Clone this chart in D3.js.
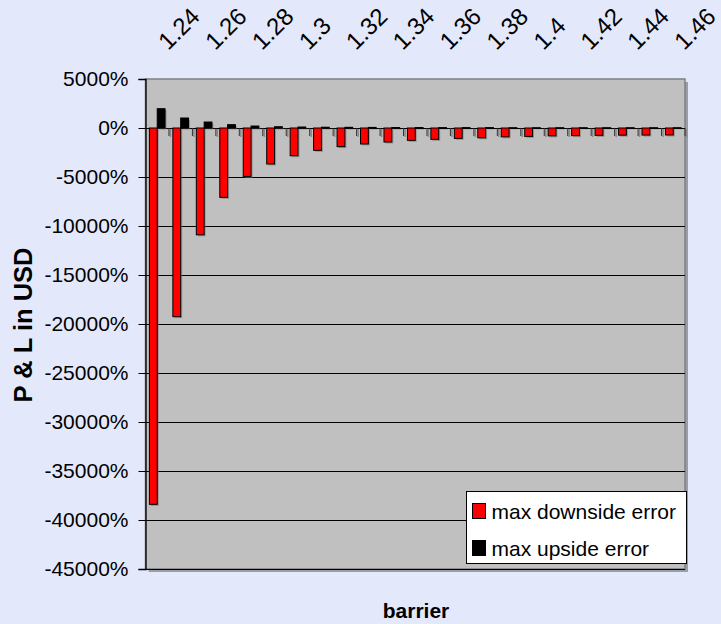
<!DOCTYPE html>
<html>
<head>
<meta charset="utf-8">
<script src="https://cdn.jsdelivr.net/npm/d3@7"></script>
<style>
  html, body { margin: 0; padding: 0; background: #e3e9fb; }
  svg { display: block; font-family: "Liberation Sans", Arial, sans-serif; }
</style>
</head>
<body>
<svg id="chart" width="721" height="624"></svg>
<script>
// Barrier levels (categories along the top axis)
const barriers = ["1.24","1.25","1.26","1.27","1.28","1.29","1.3","1.31","1.32","1.33","1.34","1.35",
                  "1.36","1.37","1.38","1.39","1.4","1.41","1.42","1.43","1.44","1.45","1.46"];
// Labelled barriers (every other one)
const barrierLabels = ["1.24","1.26","1.28","1.3","1.32","1.34","1.36","1.38","1.4","1.42","1.44","1.46"];
// Max downside error, in %
const downside = [-38400, -19250, -10900, -7080, -4940, -3670, -2830, -2280, -1900, -1630, -1430, -1260,
                  -1160, -1060, -1000, -900, -860, -800, -780, -750, -730, -720, -710];
// Max upside error, in %
const upside = [1970, 1020, 610, 340, 200, 130, 100, 80, 70, 60, 50, 50,
                40, 40, 40, 30, 30, 30, 30, 30, 30, 30, 30];
// Value axis ticks
const yTicks = [5000, 0, -5000, -10000, -15000, -20000, -25000, -30000, -35000, -40000, -45000];

const seriesNames = ["max downside error", "max upside error"];
const seriesColors = ["#ff0000", "#000000"];

const svg = d3.select("#chart");
const plot = { left: 145.5, top: 79, right: 685, bottom: 569 };

const x = d3.scaleBand().domain(barriers).range([plot.left, plot.right]).padding(0);
const xs = d3.scaleBand().domain(["down", "up"]).range([0, x.bandwidth()]).paddingInner(0).paddingOuter(0.5);
const y = d3.scaleLinear().domain([-45000, 5000]).range([plot.bottom, plot.top]);

// Plot area with drop shadow
svg.append("rect")
  .attr("x", plot.left + 3).attr("y", plot.top + 3)
  .attr("width", plot.right - plot.left).attr("height", plot.bottom - plot.top)
  .attr("fill", "#9a9ea8");
svg.append("rect")
  .attr("x", plot.left).attr("y", plot.top)
  .attr("width", plot.right - plot.left).attr("height", plot.bottom - plot.top)
  .attr("fill", "#c0c0c0").attr("stroke", "#808080").attr("stroke-width", 1.5);

// Horizontal gridlines
svg.append("g").selectAll("line").data(yTicks).join("line")
  .attr("x1", plot.left).attr("x2", plot.right)
  .attr("y1", d => Math.round(y(d)) + 0.5).attr("y2", d => Math.round(y(d)) + 0.5)
  .attr("stroke", "#000").attr("stroke-width", 1)
  .attr("display", d => d === 5000 ? "none" : null);

// Value axis
const yAxis = d3.axisLeft(y).tickValues(yTicks).tickFormat(d => d + "%").tickSize(7).tickPadding(10);
const gy = svg.append("g").attr("transform", `translate(${plot.left},0)`).call(yAxis);
gy.select(".domain").attr("stroke", "#000").attr("stroke-width", 1.3);
gy.selectAll(".tick line").attr("stroke", "#000");
gy.selectAll(".tick text").attr("font-size", 21).attr("fill", "#000")
  .attr("font-family", "Liberation Sans, Arial, sans-serif");

// Category tick marks hanging from the zero line
const boundaries = barriers.map(b => x(b)).concat([plot.right]).slice(1);
svg.append("g").selectAll("line").data(boundaries).join("line")
  .attr("x1", d => d + 1.5).attr("x2", d => d + 1.5)
  .attr("y1", y(0) + 1).attr("y2", y(0) + 9)
  .attr("stroke", "#888").attr("stroke-width", 1.5);
svg.append("g").selectAll("line").data(boundaries).join("line")
  .attr("x1", d => d).attr("x2", d => d)
  .attr("y1", y(0)).attr("y2", y(0) + 8)
  .attr("stroke", "#333").attr("stroke-width", 1);

// Bars
const rows = barriers.map((b, i) => ({ b, down: downside[i], up: upside[i] }));
function barGroup(key, color) {
  const g = svg.append("g");
  const rect = d => {
    const v = d[key];
    return { x: x(d.b) + xs(key), y: Math.min(y(0), y(v)), w: xs.bandwidth(), h: Math.abs(y(v) - y(0)) };
  };
  g.selectAll("rect.sh").data(rows).join("rect").attr("class", "sh")
    .attr("x", d => rect(d).x + 1.5).attr("y", d => rect(d).y + 1.5)
    .attr("width", d => rect(d).w).attr("height", d => rect(d).h)
    .attr("fill", "#6e6e6e").attr("opacity", 0.55);
  g.selectAll("rect.bar").data(rows).join("rect").attr("class", "bar")
    .attr("x", d => rect(d).x).attr("y", d => rect(d).y)
    .attr("width", d => rect(d).w).attr("height", d => rect(d).h)
    .attr("fill", color).attr("stroke", "#000").attr("stroke-width", 1);
}
barGroup("down", seriesColors[0]);
barGroup("up", seriesColors[1]);

// Category labels along the top, rotated
svg.append("g").selectAll("text").data(barrierLabels).join("text")
  .attr("transform", d => `translate(${x(d) + x.bandwidth() / 2 + 11},51) rotate(-45)`)
  .attr("font-size", 24).attr("fill", "#000")
  .text(d => d);

// Axis titles
svg.append("text")
  .attr("transform", `translate(32,325) rotate(-90)`)
  .attr("text-anchor", "middle").attr("font-weight", "bold").attr("font-size", 25.5)
  .text("P & L in USD");
svg.append("text")
  .attr("x", 416).attr("y", 618)
  .attr("text-anchor", "middle").attr("font-weight", "bold").attr("font-size", 21)
  .text("barrier");

// Legend
const lg = svg.append("g");
lg.append("rect").attr("x", 466.5).attr("y", 491.5).attr("width", 220).attr("height", 72)
  .attr("fill", "#fff").attr("stroke", "#000").attr("stroke-width", 1);
seriesNames.forEach((name, i) => {
  const yy = 503 + i * 37;
  lg.append("rect").attr("x", 472.5).attr("y", yy + 0.5).attr("width", 13).attr("height", 15)
    .attr("fill", seriesColors[i]).attr("stroke", "#000").attr("stroke-width", 1);
  lg.append("text").attr("x", 491.5).attr("y", yy + 16)
    .attr("font-size", 21).attr("fill", "#000").text(name);
});
</script>
</body>
</html>
